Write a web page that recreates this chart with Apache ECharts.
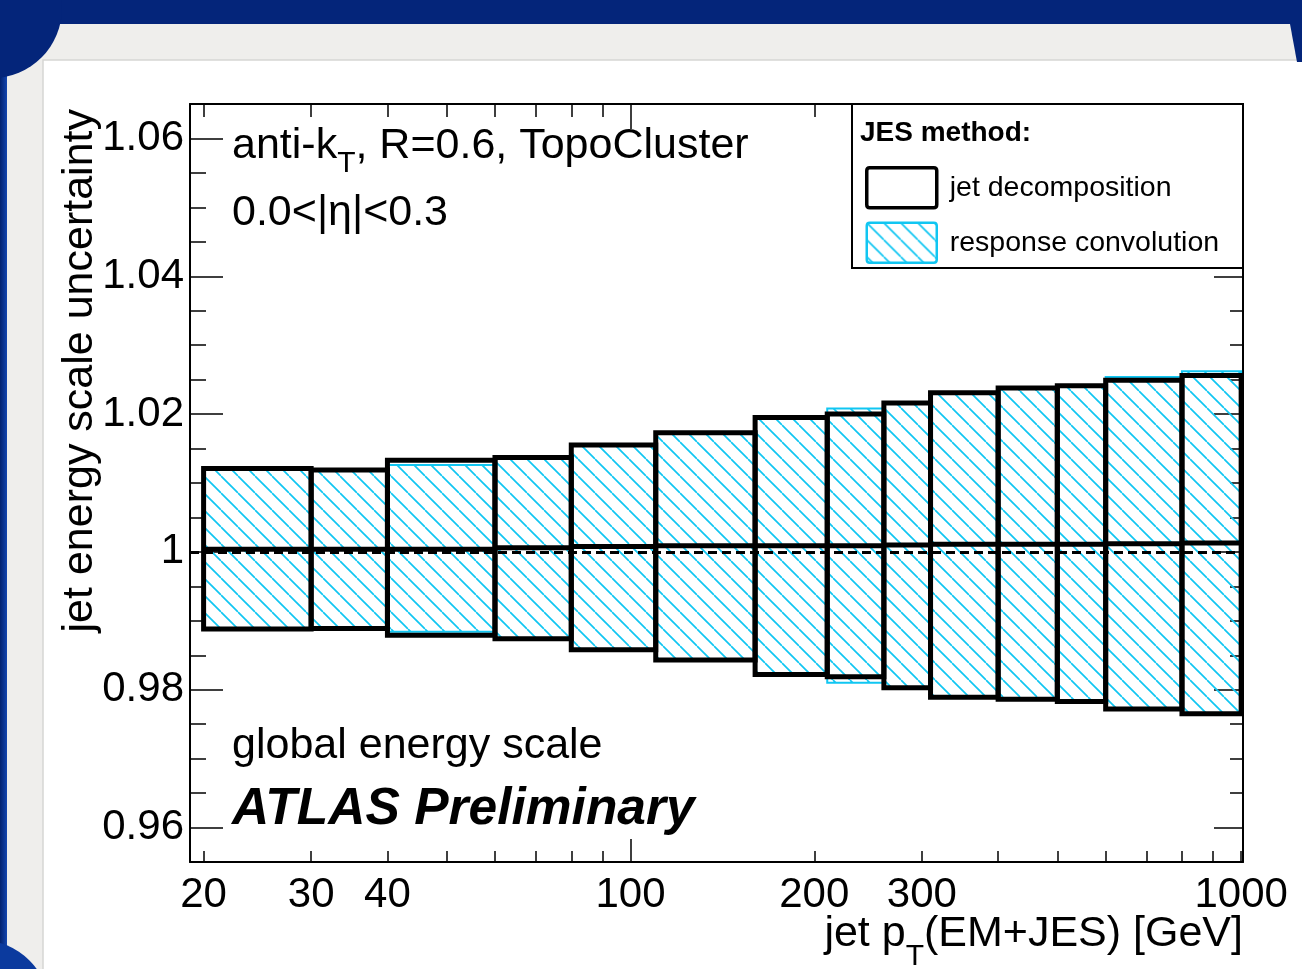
<!DOCTYPE html>
<html>
<head>
<meta charset="utf-8">
<script src="https://cdn.jsdelivr.net/npm/echarts@6/dist/echarts.min.js"></script>
<style>
  html, body { margin: 0; padding: 0; background: #fff; }
  #main { width: 1302px; height: 969px; }
</style>
</head>
<body>
<div id="main"></div>
<script>
// pT bin edges [GeV]
const binEdges = [20, 30, 40, 60, 80, 110, 160, 210, 260, 310, 400, 500, 600, 800, 1000];

// jet decomposition (black boxes)
const decompUp      = [1.0121, 1.0119, 1.0133, 1.0137, 1.0155, 1.0173, 1.0195, 1.0200, 1.0216, 1.0231, 1.0238, 1.0241, 1.0249, 1.0256];
const decompDown    = [0.9888, 0.9889, 0.9879, 0.9874, 0.9858, 0.9843, 0.9822, 0.9819, 0.9803, 0.9789, 0.9786, 0.9783, 0.9772, 0.9765];
const decompNominal = [1.0004, 1.0004, 1.0004, 1.0006, 1.0008, 1.0009, 1.0009, 1.0009, 1.0010, 1.0011, 1.0011, 1.0011, 1.0012, 1.0013];

// response convolution (cyan hatched)
const convUp   = [1.0120, 1.0118, 1.0126, 1.0136, 1.0155, 1.0173, 1.0195, 1.0208, 1.0216, 1.0231, 1.0239, 1.0242, 1.0254, 1.0262];
const convDown = [0.9888, 0.9890, 0.9884, 0.9874, 0.9858, 0.9843, 0.9822, 0.9810, 0.9803, 0.9789, 0.9786, 0.9783, 0.9772, 0.9765];

// axis ticks
const xLabelTicks = [20, 30, 40, 100, 200, 300, 1000];
const xMinorTicks = [20, 30, 40, 50, 60, 70, 80, 90, 200, 300, 400, 500, 600, 700, 800, 900, 1000];
const xMajorTicks = [100];
const yLabelTicks = [0.96, 0.98, 1, 1.02, 1.04, 1.06];
const yMinorTicks = [0.965, 0.97, 0.975, 0.985, 0.99, 0.995, 1.005, 1.01, 1.015, 1.025, 1.03, 1.035, 1.045, 1.05, 1.055];

const FONT = 'Liberation Sans';
const CYAN = '#10c6f2';
const NAVY = '#04257a';

// hatch tile  "\\\\"
function makeHatch(size, color, width) {
  const c = document.createElement('canvas');
  c.width = size; c.height = size;
  const ctx = c.getContext('2d');
  ctx.strokeStyle = color;
  ctx.lineWidth = width;
  for (let k = -1; k <= 1; k++) {
    ctx.beginPath();
    ctx.moveTo(0, k * size);
    ctx.lineTo(size, size + k * size);
    ctx.stroke();
  }
  return c;
}
const hatch = { image: makeHatch(17, CYAN, 1.7), repeat: 'repeat' };

const mctx = document.createElement('canvas').getContext('2d');
function textWidth(str, size, weight) {
  mctx.font = (weight || 'normal') + ' ' + size + 'px "' + FONT + '"';
  return mctx.measureText(str).width;
}

const decompData = decompUp.map((u, i) => [binEdges[i], binEdges[i + 1], decompDown[i], u, decompNominal[i]]);
const convData = convUp.map((u, i) => [binEdges[i], binEdges[i + 1], convDown[i], u]);

function renderConv(params, api) {
  const tl = api.coord([api.value(0), api.value(3)]);
  const br = api.coord([api.value(1), api.value(2)]);
  return {
    type: 'rect',
    shape: { x: tl[0], y: tl[1], width: br[0] - tl[0], height: br[1] - tl[1] },
    style: { fill: hatch, stroke: CYAN, lineWidth: 2 }
  };
}

function renderDecomp(params, api) {
  const tl = api.coord([api.value(0), api.value(3)]);
  const br = api.coord([api.value(1), api.value(2)]);
  const nom = api.coord([api.value(1), api.value(4)]);
  return {
    type: 'group',
    children: [
      { type: 'rect', shape: { x: tl[0], y: tl[1], width: br[0] - tl[0], height: br[1] - tl[1] },
        style: { fill: 'none', stroke: '#000', lineWidth: 5 } },
      { type: 'line', shape: { x1: tl[0], y1: nom[1], x2: br[0], y2: nom[1] },
        style: { stroke: '#000', lineWidth: 5 } }
    ]
  };
}

const xMin = 19, xMax = 1007, yMin = 0.955, yMax = 1.065;

function xAxisOf(pos, ticks, len, withLine, labels) {
  return {
    type: 'log', position: pos, min: xMin, max: xMax,
    axisLine: { show: withLine, lineStyle: { color: '#000', width: 2 } },
    axisTick: { show: true, inside: true, length: len, customValues: ticks, lineStyle: { color: '#000', width: 1.5 } },
    axisLabel: labels ? {
      show: true, customValues: labels, margin: 12,
      fontFamily: FONT, fontSize: 42, color: '#000',
      formatter: v => String(Math.round(v))
    } : { show: false },
    splitLine: { show: false }, minorTick: { show: false }
  };
}

function yAxisOf(pos, ticks, len, withLine, labels) {
  return {
    type: 'value', position: pos, min: yMin, max: yMax,
    axisLine: { show: withLine, lineStyle: { color: '#000', width: 2 } },
    axisTick: { show: true, inside: true, length: len, customValues: ticks, lineStyle: { color: '#000', width: 1.5 } },
    axisLabel: labels ? {
      show: true, customValues: labels, margin: 6, padding: [14, 0, 0, 0],
      fontFamily: FONT, fontSize: 42, color: '#000',
      formatter: v => String(Number(v.toFixed(2)))
    } : { show: false },
    splitLine: { show: false }
  };
}

// text pieces with subscripts
const fs = 43, subFs = 30;
const wAnti = textWidth('anti-k', fs);
const wSubT = textWidth('T', subFs);
const wRest = textWidth('(EM+JES) [GeV]', fs);
const xNameEnd = 1243;

function txt(text, x, y, size, opts) {
  return Object.assign({
    type: 'text', x: x, y: y, z: 10,
    style: Object.assign({
      text: text, fontFamily: FONT, fontSize: size, fill: '#000',
      textAlign: 'left', textVerticalAlign: 'middle'
    }, (opts && opts.style) || {})
  }, (opts && opts.el) || {});
}

// small-radius rounded box for the legend swatches
const swatch = 'path://M3,0 H67 Q70,0 70,3 V37 Q70,40 67,40 H3 Q0,40 0,37 V3 Q0,0 3,0 Z';

let chart = echarts.init(document.getElementById('main'), null, { renderer: 'canvas' });

chart.setOption({
  animation: false,
  backgroundColor: '#fff',
  grid: { left: 190, top: 104, right: 59, bottom: 107, containLabel: false },
  xAxis: [
    xAxisOf('bottom', xMinorTicks, 11, true, xLabelTicks),
    xAxisOf('bottom', xMajorTicks, 23, false, null),
    xAxisOf('top', xMinorTicks, 13, true, null),
    xAxisOf('top', xMajorTicks, 25, false, null)
  ],
  yAxis: [
    yAxisOf('left', yLabelTicks, 33, true, yLabelTicks),
    yAxisOf('left', yMinorTicks, 16, false, null),
    yAxisOf('right', yLabelTicks, 29, true, null),
    yAxisOf('right', yMinorTicks, 13, false, null)
  ],
  legend: {
    orient: 'vertical', left: 865, top: 166, padding: 0, z: 6,
    itemWidth: 70, itemHeight: 40, itemGap: 12, selectedMode: false,
    textStyle: { fontFamily: FONT, fontSize: 28.5, color: '#000', padding: [0, 0, 0, 8] },
    data: [
      { name: 'jet decomposition', icon: swatch,
        itemStyle: { color: '#fff', borderColor: '#000', borderWidth: 3.5 } },
      { name: 'response convolution', icon: swatch,
        itemStyle: { color: hatch, borderColor: CYAN, borderWidth: 2.5 } }
    ]
  },
  series: [
    {
      name: 'response convolution', type: 'custom', z: 2,
      renderItem: renderConv,
      encode: { x: [0, 1], y: [2, 3] },
      itemStyle: { color: hatch, borderColor: CYAN },
      data: convData
    },
    {
      name: 'jet decomposition', type: 'custom', z: 3,
      renderItem: renderDecomp,
      encode: { x: [0, 1], y: [2, 3, 4] },
      itemStyle: { color: '#fff', borderColor: '#000' },
      data: decompData,
      markLine: {
        silent: true, symbol: ['none', 'none'], label: { show: false },
        lineStyle: { type: [9, 5], color: '#000', width: 3 },
        data: [{ yAxis: 1 }]
      }
    }
  ],
  graphic: [
    // slide frame
    { type: 'rect', z: -10, shape: { x: 0, y: 0, width: 1302, height: 24 }, style: { fill: NAVY } },
    { type: 'rect', z: -10, shape: { x: 0, y: 24, width: 1302, height: 36 }, style: { fill: '#efeeec' } },
    { type: 'rect', z: -10, shape: { x: 0, y: 60, width: 43, height: 909 }, style: { fill: '#efeeec' } },
    { type: 'polyline', z: -9, shape: { points: [[43, 969], [43, 60], [1302, 60]] }, style: { stroke: '#d6d6d4', lineWidth: 1.5, fill: null } },
    { type: 'rect', z: -8, shape: { x: 0, y: 24, width: 7, height: 945 },
      style: { fill: new echarts.graphic.LinearGradient(0, 0, 1, 0, [{ offset: 0, color: '#03226f' }, { offset: 1, color: '#1446b0' }]) } },
    { type: 'circle', z: -8, shape: { cx: -8, cy: 8, r: 70 }, style: { fill: NAVY } },
    { type: 'circle', z: -8, shape: { cx: -20, cy: 1010, r: 70 }, style: { fill: '#0b3a9e' } },
    { type: 'polygon', z: -8, shape: { points: [[1290, 24], [1302, 24], [1302, 62], [1297, 62]] }, style: { fill: NAVY } },

    // legend frame and header
    { type: 'rect', z: 5, shape: { x: 852, y: 104, width: 391, height: 164 }, style: { fill: '#fff', stroke: '#000', lineWidth: 2 } },
    txt('JES method:', 860, 133, 28, { style: { fontWeight: 'bold' } }),

    // annotations
    txt('anti-k', 232, 146, fs),
    txt('T', 232 + wAnti, 164, subFs),
    txt(', R=0.6, TopoCluster', 232 + wAnti + wSubT, 146, fs),
    txt('0.0<|η|<0.3', 232, 213, fs),
    txt('global energy scale', 232, 746, fs),
    txt('ATLAS Preliminary', 232, 810, 51.5, { style: { fontWeight: 'bold', fontStyle: 'italic' } }),

    // x axis title
    txt('(EM+JES) [GeV]', xNameEnd, 934, fs, { style: { textAlign: 'right' } }),
    txt('T', xNameEnd - wRest - wSubT, 957, subFs),
    txt('jet p', xNameEnd - wRest - wSubT, 934, fs, { style: { textAlign: 'right' } }),

    // y axis title
    txt('jet energy scale uncertainty', 80, 109, fs, { el: { rotation: Math.PI / 2 }, style: { textAlign: 'right' } })
  ]
});
</script>
</body>
</html>
